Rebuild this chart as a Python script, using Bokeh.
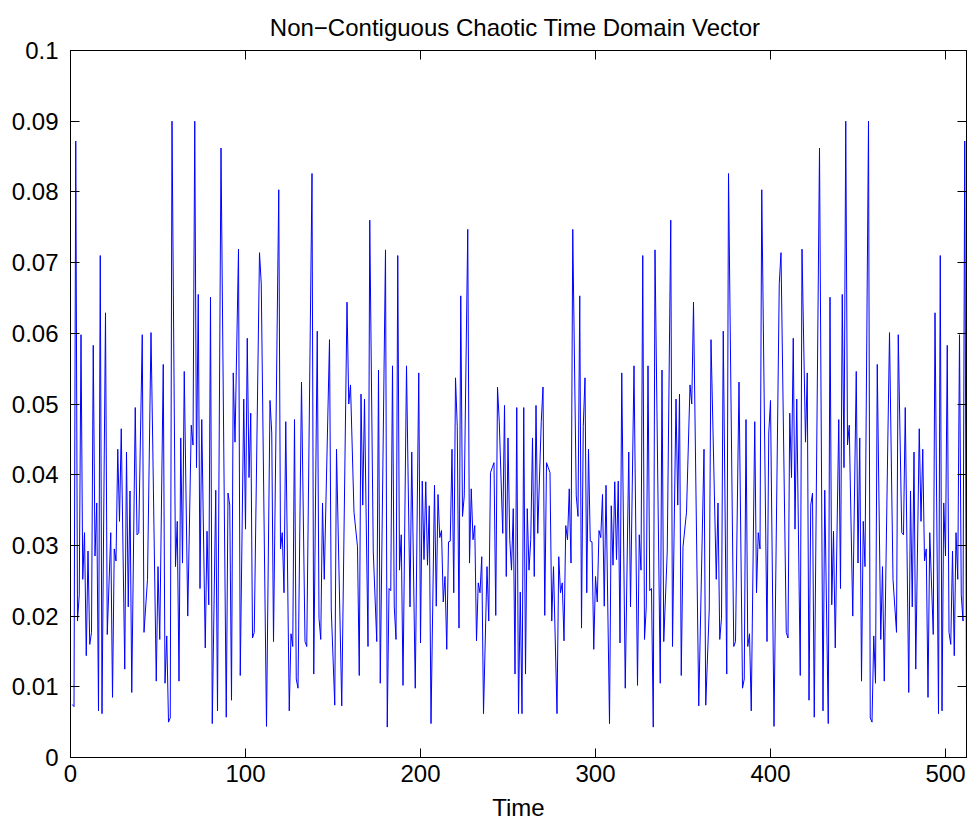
from bokeh.plotting import figure
from bokeh.models import Range1d, LinearAxis, FixedTicker, CustomJSTickFormatter, ColumnDataSource
from bokeh.embed import file_html
from bokeh.resources import INLINE

TITLE = "Non\u2212Contiguous Chaotic Time Domain  Vector"
X_LABEL = "Time"
x_ticks = [0, 100, 200, 300, 400, 500]
y_ticks = [0, 0.01, 0.02, 0.03, 0.04, 0.05, 0.06, 0.07, 0.08, 0.09, 0.1]

# vertices of the trace, first half
time_first = [
    1, 2, 3, 4, 5, 6, 7, 8, 9, 10,
    11, 12, 13, 14, 15, 16, 17, 18, 20, 21,
    23, 24, 25, 26, 27, 28, 29, 31, 32, 33,
    34, 35, 37, 38, 39, 41, 42, 44, 46, 47,
    49, 50, 51, 53, 54, 55, 56, 57, 58, 60,
    61, 62, 63, 64, 65, 67, 69, 70, 71, 72,
    73, 74, 75, 77, 78, 79, 80, 81, 83, 84,
    86, 89, 90, 91, 92, 93, 94, 96, 97, 99,
    100, 101, 102, 103, 104, 105, 108, 109, 112, 114,
    115, 116, 119, 120, 121, 122, 123, 125, 126, 127,
    128, 129, 130, 132, 134, 135, 138, 139, 141, 142,
    143, 144, 145, 148, 149, 151, 152, 155, 158, 159,
    160, 162, 164, 165, 166, 167, 168, 170, 171, 173,
    175, 176, 177, 180, 181, 182, 183, 184, 185, 186,
    187, 188, 189, 190, 192, 194, 195, 197, 199, 200,
    201, 202, 203, 204, 205, 206, 208, 209, 210, 211,
    212, 213, 214, 215, 216, 217, 218, 219, 220, 221,
    222, 223, 224, 225, 227, 228, 229, 230, 231, 232,
    233, 234, 235, 236, 238, 239, 240, 241, 242, 243,
    244, 245, 247, 248, 249, 250, 251, 252, 253, 254,
    255, 256, 257,
]
value_first = [
    0.0075, 0.0072, 0.0872, 0.0193, 0.0230, 0.0598, 0.0252, 0.0318, 0.0144, 0.0292,
    0.0160, 0.0177, 0.0583, 0.0285, 0.0360, 0.0066, 0.0710, 0.0062, 0.0629, 0.0174,
    0.0318, 0.0085, 0.0295, 0.0278, 0.0436, 0.0334, 0.0465, 0.0125, 0.0432, 0.0213,
    0.0377, 0.0092, 0.0495, 0.0315, 0.0318, 0.0598, 0.0177, 0.0252, 0.0601, 0.0442,
    0.0108, 0.0270, 0.0167, 0.0556, 0.0105, 0.0172, 0.0050, 0.0056, 0.0900, 0.0270,
    0.0334, 0.0108, 0.0452, 0.0275, 0.0546, 0.0200, 0.0470, 0.0442, 0.0900, 0.0410,
    0.0655, 0.0239, 0.0478, 0.0155, 0.0320, 0.0216, 0.0651, 0.0048, 0.0378, 0.0066,
    0.0862, 0.0057, 0.0374, 0.0357, 0.0081, 0.0544, 0.0446, 0.0719, 0.0116, 0.0507,
    0.0323, 0.0593, 0.0396, 0.0487, 0.0169, 0.0177, 0.0714, 0.0670, 0.0044, 0.0505,
    0.0459, 0.0164, 0.0803, 0.0295, 0.0318, 0.0233, 0.0475, 0.0066, 0.0175, 0.0157,
    0.0478, 0.0111, 0.0098, 0.0531, 0.0164, 0.0157, 0.0826, 0.0118, 0.0603, 0.0197,
    0.0167, 0.0360, 0.0252, 0.0591, 0.0210, 0.0074, 0.0436, 0.0073, 0.0644, 0.0500,
    0.0527, 0.0347, 0.0298, 0.0116, 0.0514, 0.0357, 0.0507, 0.0157, 0.0760, 0.0292,
    0.0164, 0.0548, 0.0105, 0.0718, 0.0043, 0.0239, 0.0236, 0.0554, 0.0213, 0.0167,
    0.0710, 0.0265, 0.0315, 0.0102, 0.0554, 0.0213, 0.0432, 0.0098, 0.0544, 0.0162,
    0.0391, 0.0280, 0.0390, 0.0272, 0.0356, 0.0048, 0.0385, 0.0214, 0.0372, 0.0311,
    0.0321, 0.0220, 0.0256, 0.0153, 0.0305, 0.0306, 0.0436, 0.0233, 0.0537, 0.0468,
    0.0183, 0.0653, 0.0341, 0.0370, 0.0747, 0.0275, 0.0380, 0.0308, 0.0328, 0.0165,
    0.0247, 0.0233, 0.0284, 0.0062, 0.0270, 0.0193, 0.0403, 0.0410, 0.0417, 0.0201,
    0.0524, 0.0475, 0.0317, 0.0498, 0.0256, 0.0452, 0.0308, 0.0265, 0.0352, 0.0118,
    0.0495, 0.0062, 0.0234,
]

# vertices of the trace, second half
time_second = [
    258, 259, 260, 261, 262, 263, 264, 265, 266, 267,
    269, 270, 271, 272, 273, 274, 275, 276, 278, 279,
    280, 281, 282, 283, 284, 285, 286, 287, 289, 290,
    291, 292, 293, 294, 295, 296, 297, 298, 299, 300,
    301, 302, 303, 304, 305, 306, 308, 309, 310, 311,
    312, 313, 314, 315, 317, 319, 320, 322, 324, 325,
    326, 327, 328, 329, 330, 331, 332, 333, 334, 337,
    338, 339, 341, 343, 344, 346, 347, 348, 349, 350,
    352, 354, 355, 356, 359, 362, 363, 365, 366, 369,
    370, 371, 372, 373, 375, 376, 379, 380, 382, 384,
    385, 386, 387, 388, 389, 391, 392, 393, 394, 395,
    398, 399, 400, 402, 405, 406, 409, 410, 411, 412,
    413, 414, 415, 417, 418, 420, 421, 422, 423, 424,
    425, 428, 430, 431, 433, 434, 435, 436, 437, 439,
    440, 441, 442, 443, 444, 445, 447, 449, 450, 451,
    452, 453, 454, 456, 457, 458, 459, 460, 461, 463,
    464, 465, 467, 468, 470, 472, 473, 475, 476, 477,
    479, 480, 481, 482, 483, 485, 486, 487, 488, 489,
    490, 491, 493, 494, 496, 497, 498, 499, 500, 501,
    502, 503, 504, 505, 506, 507, 508, 509, 510, 511,
    512,
]
value_second = [
    0.0062, 0.0495, 0.0118, 0.0352, 0.0265, 0.0308, 0.0452, 0.0256, 0.0498, 0.0317,
    0.0475, 0.0524, 0.0201, 0.0417, 0.0410, 0.0403, 0.0193, 0.0270, 0.0062, 0.0284,
    0.0233, 0.0247, 0.0165, 0.0328, 0.0308, 0.0380, 0.0275, 0.0747, 0.0370, 0.0341,
    0.0653, 0.0183, 0.0468, 0.0537, 0.0233, 0.0436, 0.0306, 0.0305, 0.0153, 0.0256,
    0.0220, 0.0321, 0.0311, 0.0372, 0.0214, 0.0385, 0.0048, 0.0356, 0.0272, 0.0390,
    0.0280, 0.0391, 0.0162, 0.0544, 0.0098, 0.0432, 0.0213, 0.0554, 0.0102, 0.0315,
    0.0265, 0.0710, 0.0167, 0.0213, 0.0554, 0.0236, 0.0239, 0.0043, 0.0718, 0.0105,
    0.0548, 0.0164, 0.0292, 0.0760, 0.0157, 0.0507, 0.0357, 0.0514, 0.0116, 0.0298,
    0.0347, 0.0527, 0.0500, 0.0644, 0.0073, 0.0436, 0.0074, 0.0210, 0.0591, 0.0252,
    0.0360, 0.0167, 0.0197, 0.0603, 0.0118, 0.0826, 0.0157, 0.0164, 0.0531, 0.0098,
    0.0111, 0.0478, 0.0157, 0.0175, 0.0066, 0.0475, 0.0233, 0.0318, 0.0295, 0.0803,
    0.0164, 0.0459, 0.0505, 0.0044, 0.0670, 0.0714, 0.0177, 0.0169, 0.0487, 0.0396,
    0.0593, 0.0323, 0.0507, 0.0116, 0.0719, 0.0446, 0.0544, 0.0081, 0.0357, 0.0374,
    0.0057, 0.0862, 0.0066, 0.0378, 0.0048, 0.0651, 0.0216, 0.0320, 0.0155, 0.0478,
    0.0239, 0.0655, 0.0410, 0.0900, 0.0442, 0.0470, 0.0200, 0.0546, 0.0275, 0.0452,
    0.0108, 0.0334, 0.0270, 0.0900, 0.0056, 0.0050, 0.0172, 0.0105, 0.0556, 0.0167,
    0.0270, 0.0108, 0.0442, 0.0601, 0.0252, 0.0177, 0.0598, 0.0318, 0.0315, 0.0495,
    0.0092, 0.0377, 0.0213, 0.0432, 0.0125, 0.0465, 0.0334, 0.0436, 0.0278, 0.0295,
    0.0085, 0.0318, 0.0174, 0.0629, 0.0062, 0.0710, 0.0066, 0.0360, 0.0285, 0.0583,
    0.0177, 0.0160, 0.0292, 0.0144, 0.0318, 0.0252, 0.0598, 0.0230, 0.0193, 0.0872,
    0.0072,
]

time = time_first + time_second
value = value_first + value_second
assert len(time) == len(value)

FONT = "Liberation Sans"
source = ColumnDataSource(data=dict(time=time, value=value))

p = figure(width=972, height=829, output_backend="svg", toolbar_location=None,
           x_range=Range1d(0, 512), y_range=Range1d(0, 0.1),
           min_border_left=70, min_border_right=6, min_border_top=50, min_border_bottom=72,
           title=TITLE)
p.title.align = "center"
p.title.vertical_align = "top"
p.title.text_font = FONT
p.title.text_font_size = "24px"
p.title.text_font_style = "normal"
p.title.text_color = "black"
p.title.standoff = 16
p.grid.visible = False
p.outline_line_color = "black"
p.outline_line_alpha = 1.0
p.outline_line_width = 1
p.background_fill_color = "white"
p.border_fill_color = "white"

p.line("time", "value", source=source, line_color="#0000ff", line_width=1)

fmt = CustomJSTickFormatter(code="return String(Math.round(tick*100)/100);")
blank = CustomJSTickFormatter(code="return '';")

def style(ax, labels=True):
    ax.axis_line_color = "black"
    ax.major_tick_line_color = "black"
    ax.major_tick_in = 9
    ax.major_tick_out = 0
    ax.minor_tick_line_color = None
    ax.major_label_text_font = FONT
    ax.major_label_text_color = "black"
    ax.major_label_text_font_size = "24px"
    if not labels:
        ax.formatter = blank
        ax.major_label_standoff = 0

xa = p.xaxis[0]
xa.ticker = FixedTicker(ticks=x_ticks)
style(xa)
xa.major_label_standoff = 7
xa.axis_label = X_LABEL
xa.axis_label_text_font = FONT
xa.axis_label_text_font_size = "24px"
xa.axis_label_text_font_style = "normal"
xa.axis_label_text_color = "black"
xa.axis_label_standoff = 9

ya = p.yaxis[0]
ya.ticker = FixedTicker(ticks=y_ticks)
ya.formatter = fmt
style(ya)
ya.major_label_standoff = 12

top = LinearAxis(ticker=FixedTicker(ticks=x_ticks))
style(top, labels=False)
p.add_layout(top, "above")
right = LinearAxis(ticker=FixedTicker(ticks=y_ticks))
style(right, labels=False)
p.add_layout(right, "right")

open("out.html", "w").write(file_html(p, INLINE))
